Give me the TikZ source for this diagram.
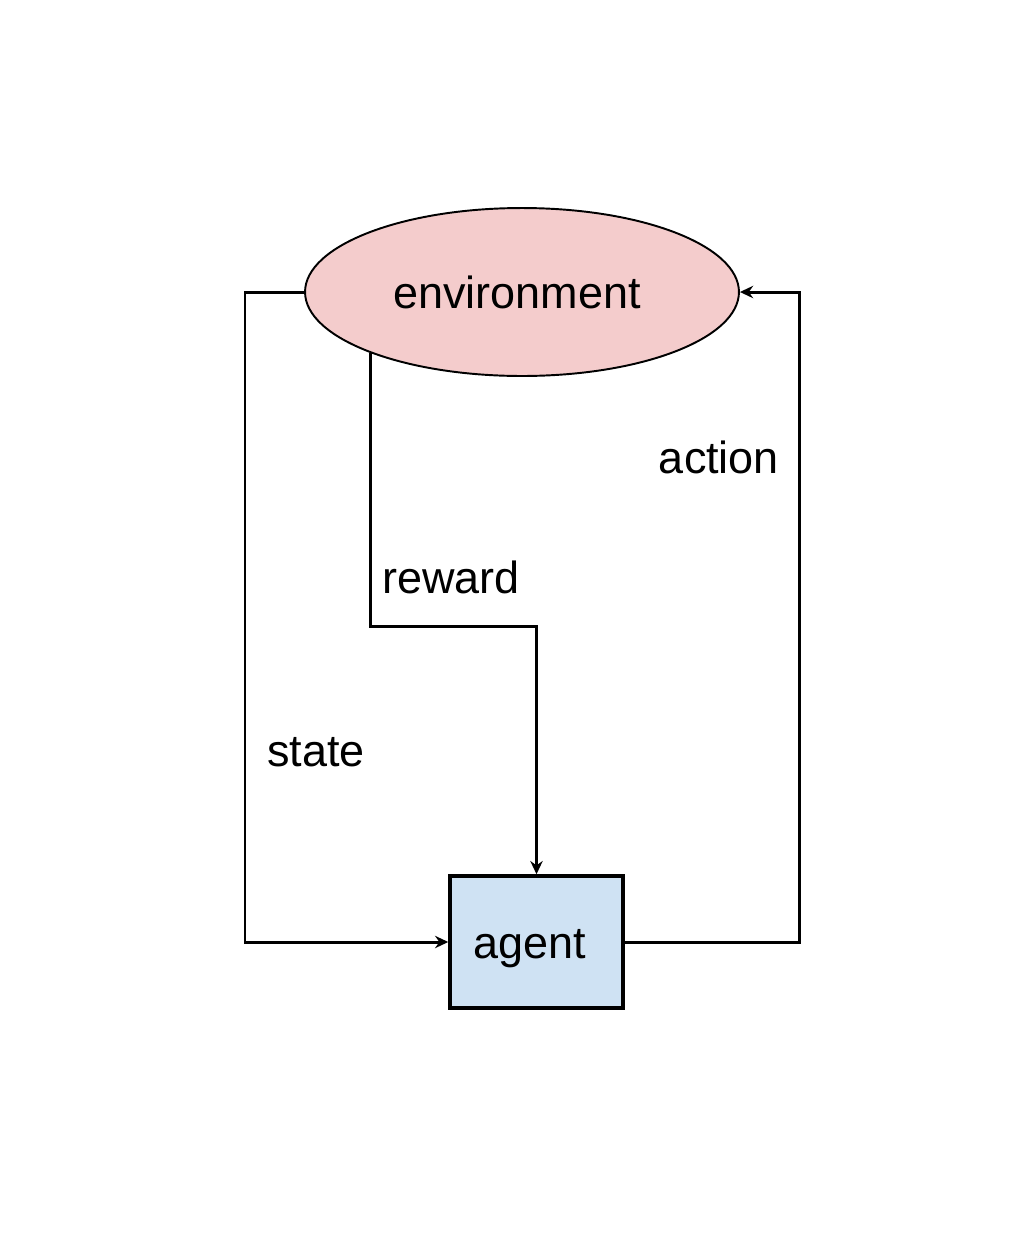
\documentclass[tikz,border=0pt]{standalone}
\usepackage{fontspec}
\setmainfont{Liberation Sans}
\usetikzlibrary{shapes.geometric,arrows.meta}
\definecolor{envfill}{HTML}{F4CCCC}
\definecolor{agentfill}{HTML}{CFE2F3}
\begin{document}
\begin{tikzpicture}[x=0.02cm,y=-0.02cm,
  lbl/.style={font=\fontsize{25.6}{30}\selectfont, inner sep=0pt},
  flow/.style={line width=1.7pt, -{Stealth[length=7.5pt,width=7pt]}},
  envstyle/.style={ellipse, draw, line width=1.1pt, fill=envfill, minimum width=8.68cm, minimum height=3.36cm, inner sep=0pt, font=\fontsize{25.6}{30}\selectfont},
  agentstyle/.style={rectangle, draw, line width=2pt, fill=agentfill, minimum width=3.46cm, minimum height=2.64cm, inner sep=0pt, font=\fontsize{25.6}{30}\selectfont}]
\useasboundingbox[fill=white] (0,0) rectangle (1027,1255);
\node[envstyle] (env) at (522,292) {\hspace*{-0.2cm}environment};
\node[agentstyle] (agent) at (536.5,942) {\hspace*{-0.28cm}\raisebox{-0.14cm}[\height][\depth]{agent}};
% state
\draw[flow] (env.west) -| (245,942) -- (agent.west);
% reward
\draw[flow] (env.202.3) |- (agent.north |- 0,626) -- (agent.north);
% action
\draw[flow] (agent.east) -| (799,292) -- (env.east);
\node[lbl] (action) at (719,457) {action};
\node[lbl] (reward) at (451,577) {reward};
\node[lbl] (state) at (316,752) {state};
\end{tikzpicture}
\end{document}
